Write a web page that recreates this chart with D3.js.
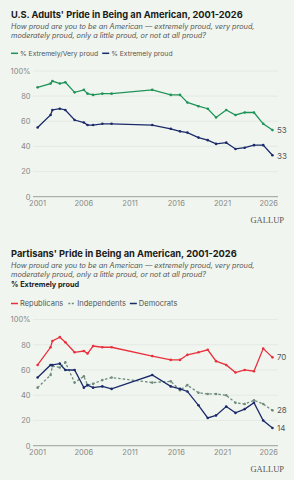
<!DOCTYPE html>
<html>
<head>
<meta charset="utf-8">
<script src="https://cdn.jsdelivr.net/npm/d3@7"></script>
<style>
  body { margin: 0; background: #f0f5ef; }
  svg { display: block; font-family: Inter, "Open Sans", sans-serif; }
</style>
</head>
<body>
<svg id="chart" width="294" height="480"></svg>
<script>
// survey dates (decimal years)
var years = [2001, 2002.4, 2002.6, 2003.4, 2004, 2005, 2006, 2006.4, 2007, 2008, 2009,
  2013.4, 2015.4, 2016.4, 2017.2, 2018.4, 2019.4, 2020.3, 2021.4, 2022.4, 2023.4, 2024.4, 2025.4, 2026.4];

// top chart: U.S. adults
var extremelyVery = [87, 90, 92, 90, 91, 83, 85, 82, 81, 82, 82, 85, 81, 81, 75, 72, 70, 63, 69, 65, 67, 67, 58, 53];
var extremely = [55, 65, 69, 70, 69, 61, 59, 57, 57, 58, 58, 57, 54, 52, 51, 47, 45, 42, 43, 38, 39, 41, 41, 33];

// bottom chart: partisans, % extremely proud
var republicans = [64, 78, 83, 86, 82, 74, 75, 73, 79, 78, 78, 71, 68, 68, 72, 74, 76, 67, 64, 58, 60, 59, 77, 70];
var independents = [46, 56, 63, 62, 66, 50, 55, 48, 49, 52, 54, 50, 51, 44, 48, 42, 41, 41, 40, 34, 33, 36, 33, 28];
var democrats = [54, 64, 64, 65, 60, 60, 46, 48, 46, 47, 45, 56, 47, 45, 43, 32, 22, 24, 31, 26, 29, 34, 20, 14];

var yTicks = [0, 20, 40, 60, 80, 100];
var xTicks = [2001, 2006, 2011, 2016, 2021, 2026];

var green = "#1e9458", navy = "#1b2a6b", red = "#e8313d", indCol = "#6d8c7c";

const svg = d3.select("#chart");
svg.append("rect").attr("width", 294).attr("height", 480).attr("fill", "#f0f5ef");

var x = d3.scaleLinear().domain([2000.5, 2027]).range([33, 278]);

// shrink a text's font size so it spans the given width
function fit(t, size, width) {
    t.attr("font-size", size);
    var w = t.node().getComputedTextLength();
    t.attr("font-size", size * width / w);
    return t;
}

function header(top, title, titleW, legendItems, extraBold) {
    fit(svg.append("text")
        .attr("x", 11).attr("y", top)
        .attr("font-weight", "bold").attr("fill", "#1a1a1a")
        .text(title), 12, titleW);
    var sub = ["How proud are you to be an American \u2014 extremely proud, very proud,",
               "moderately proud, only a little proud, or not at all proud?"];
    var subSize;
    sub.forEach(function(s, i) {
        var t = svg.append("text")
            .attr("x", 11).attr("y", top + 10.5 + i * 9.5)
            .attr("font-style", "italic").attr("fill", "#555")
            .text(s);
        if (i === 0) { fit(t, 8, 244); subSize = +t.attr("font-size"); }
        else t.attr("font-size", subSize);
    });
    var ly = top + 35;
    if (extraBold) {
        svg.append("text")
            .attr("x", 11).attr("y", top + 30)
            .attr("font-size", subSize).attr("font-weight", "bold").attr("fill", "#222")
            .text(extraBold);
        ly = top + 46.5;
    }
    var lx = 11;
    legendItems.forEach(function(d) {
        svg.append("line")
            .attr("x1", lx).attr("x2", lx + 7).attr("y1", ly).attr("y2", ly)
            .attr("stroke", d.color).attr("stroke-width", 1.5)
            .attr("stroke-dasharray", d.dash ? "2,1.5" : null);
        var t = svg.append("text")
            .attr("x", lx + 9).attr("y", ly + 2.6)
            .attr("font-size", d.size).attr("fill", "#555")
            .text(d.name);
        lx += 9 + t.node().getComputedTextLength() + d.gap;
    });
}

function panel(y0, y100, series, endLabels) {
    var y = d3.scaleLinear().domain([0, 100]).range([y0, y100]);
    var g = svg.append("g");

    // gridlines
    g.selectAll(".grid").data(yTicks.slice(1)).enter().append("line")
        .attr("x1", x.range()[0]).attr("x2", x.range()[1])
        .attr("y1", function(d) { return y(d); }).attr("y2", function(d) { return y(d); })
        .attr("stroke", "#e1e8e0").attr("stroke-width", 0.8);
    g.append("line")
        .attr("x1", x.range()[0]).attr("x2", x.range()[1])
        .attr("y1", y(0)).attr("y2", y(0))
        .attr("stroke", "#888").attr("stroke-width", 0.8);

    g.selectAll(".ylab").data(yTicks).enter().append("text")
        .attr("x", 30.5).attr("y", function(d) { return y(d) + 2.8; })
        .attr("text-anchor", "end").attr("font-size", 7.5).attr("fill", "#888")
        .text(function(d) { return d === 100 ? "100%" : d; });

    g.selectAll(".xlab").data(xTicks).enter().append("text")
        .attr("x", function(d) { return x(d); }).attr("y", y(0) + 9.5)
        .attr("text-anchor", "middle").attr("font-size", 7.5).attr("fill", "#888")
        .text(function(d) { return d; });

    var line = d3.line()
        .x(function(d, i) { return x(years[i]); })
        .y(function(d) { return y(d); });

    series.forEach(function(s) {
        g.append("path").datum(s.values)
            .attr("d", line).attr("fill", "none")
            .attr("stroke", s.color).attr("stroke-width", 1.3)
            .attr("stroke-dasharray", s.dash ? "2.5,2" : null);
        g.selectAll(null).data(s.values).enter().append("circle")
            .attr("cx", function(d, i) { return x(years[i]); })
            .attr("cy", function(d) { return y(d); })
            .attr("r", 1.3).attr("fill", s.color);
    });

    endLabels.forEach(function(e) {
        var last = e.values[e.values.length - 1];
        g.append("text")
            .attr("x", x(years[years.length - 1]) + 4.5).attr("y", y(last) + 3 + e.dy)
            .attr("font-size", 8).attr("fill", "#555")
            .text(last);
    });

    svg.append("text")
        .attr("x", 284).attr("y", y(0) + 26.5)
        .attr("text-anchor", "end")
        .attr("font-family", "'Liberation Serif', 'DejaVu Serif', serif")
        .attr("font-size", 8.5).attr("fill", "#555")
        .text("GALLUP");
}

// top
header(18.3, "U.S. Adults' Pride in Being an American, 2001-2026", 232, [
    {name: "% Extremely/Very proud", color: green, size: 6.8, gap: 4},
    {name: "% Extremely proud", color: navy, size: 6.8, gap: 4}
]);
panel(196.7, 71, [
    {values: extremelyVery, color: green},
    {values: extremely, color: navy}
], [
    {values: extremelyVery, dy: 0},
    {values: extremely, dy: 0.5}
]);

// bottom
header(257, "Partisans' Pride in Being an American, 2001-2026", 226, [
    {name: "Republicans", color: red, size: 7.5, gap: 5},
    {name: "Independents", color: indCol, dash: true, size: 7.5, gap: 4},
    {name: "Democrats", color: navy, size: 7.5, gap: 4}
], "% Extremely proud");
panel(445.7, 319.5, [
    {values: independents, color: indCol, dash: true},
    {values: democrats, color: navy},
    {values: republicans, color: red}
], [
    {values: republicans, dy: 0},
    {values: independents, dy: 0},
    {values: democrats, dy: 0}
]);
</script>
</body>
</html>
